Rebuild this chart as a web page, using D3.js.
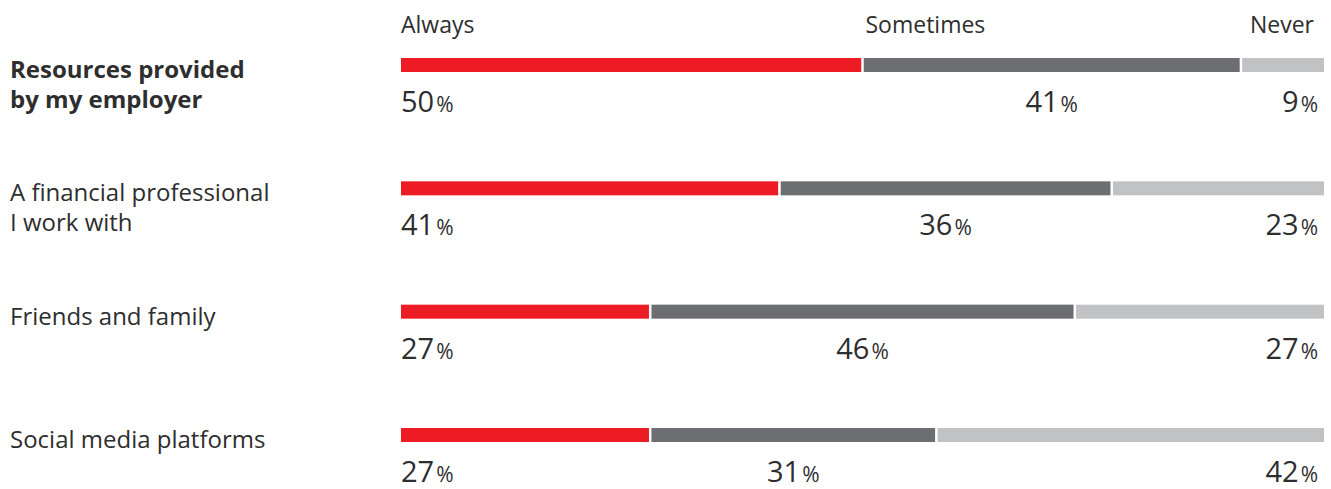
<!DOCTYPE html>
<html>
<head>
<meta charset="utf-8">
<script src="https://cdn.jsdelivr.net/npm/d3@7"></script>
<style>
  body { margin: 0; background: #fff; }
  text { font-family: "Open Sans", sans-serif; fill: #2e2e2e; }
</style>
</head>
<body>
<div id="chart"></div>
<script>
// Chart data
const categories = [
  ["Resources provided", "by my employer"],
  ["A financial professional", "I work with"],
  ["Friends and family"],
  ["Social media platforms"]
];
const answers = ["Always", "Sometimes", "Never"];
const always = [50, 41, 27, 27];
const sometimes = [41, 36, 46, 31];
const never = [9, 23, 27, 42];

const width = 1331;
const height = 489;

const color = d3.scaleOrdinal()
  .domain(answers)
  .range(["#ed1c24", "#6d6e71", "#c1c2c4"]);

// x scale for the stacked bars
const xScale = d3.scaleLinear().domain([0, 100]).range([401, 1324]);

// row positions (bar centre)
const yScale = d3.scalePoint()
  .domain(d3.range(categories.length))
  .range([65, 435]);

const barH = 14;
const gap = 2.5;

const svg = d3.select("#chart")
  .append("svg")
  .attr("width", width)
  .attr("height", height);

// Header labels
const header = svg.append("g").attr("class", "header");
header.append("text")
  .attr("x", xScale(0))
  .attr("y", 33)
  .style("font-size", "23px")
  .text(answers[0]);
header.append("text")
  .attr("x", xScale(always[0]) + 3)
  .attr("y", 33)
  .style("font-size", "23px")
  .text(answers[1]);
header.append("text")
  .attr("x", xScale(100) - 10)
  .attr("y", 33)
  .style("font-size", "23px")
  .style("text-anchor", "end")
  .text(answers[2]);

// Stack the data
const rows = categories.map((c, i) => {
  const vals = [always[i], sometimes[i], never[i]];
  let start = 0;
  return vals.map((v, j) => {
    const seg = { row: i, key: answers[j], start: start, value: v };
    start += v;
    return seg;
  });
});

const rowG = svg.selectAll(".row")
  .data(rows)
  .enter()
  .append("g")
  .attr("class", "row")
  .attr("transform", (d, i) => `translate(0, ${yScale(i)})`);

// Category labels
rowG.append("text")
  .attr("x", 10)
  .attr("y", 13)
  .style("font-size", "24px")
  .style("font-weight", (d, i) => (i === 0 ? "bold" : "normal"))
  .selectAll("tspan")
  .data((d, i) => categories[i])
  .enter()
  .append("tspan")
  .attr("x", 10)
  .attr("dy", (d, i) => (i === 0 ? 0 : 30))
  .text((d) => d);

// Bars
rowG.selectAll("rect")
  .data((d) => d)
  .enter()
  .append("rect")
  .attr("x", (d) => xScale(d.start) + (d.start > 0 ? gap / 2 : 0))
  .attr("y", -barH / 2)
  .attr("width", (d) => {
    let w = xScale(d.start + d.value) - xScale(d.start);
    if (d.start > 0) w -= gap / 2;
    if (d.start + d.value < 100) w -= gap / 2;
    return w;
  })
  .attr("height", barH)
  .style("fill", (d) => color(d.key));

// Percentage labels
const pct = rowG.selectAll(".pct")
  .data((d) => d)
  .enter()
  .append("text")
  .attr("class", "pct")
  .attr("y", 47)
  .attr("x", (d, j) => {
    if (j === 0) return xScale(d.start);
    if (j === 2) return xScale(100) - 6;
    return xScale(d.start + d.value / 2);
  })
  .style("text-anchor", (d, j) => (j === 0 ? "start" : j === 2 ? "end" : "middle"));

pct.append("tspan")
  .style("font-size", "29px")
  .text((d) => d.value);
pct.append("tspan")
  .attr("dx", 2)
  .style("font-size", "21px")
  .text("%");
</script>
</body>
</html>
